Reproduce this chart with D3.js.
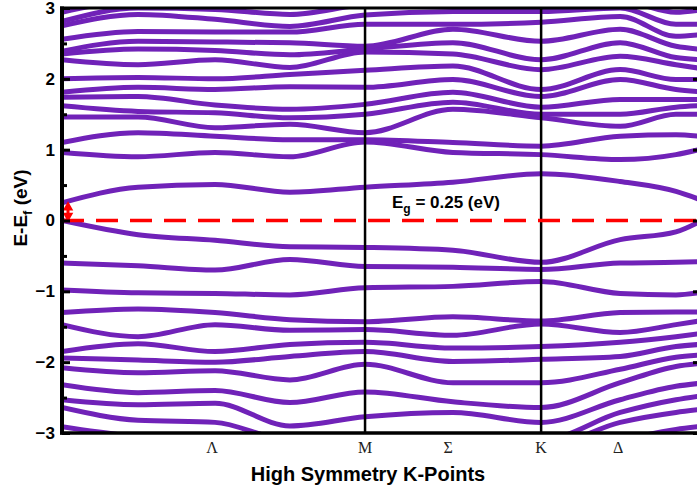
<!DOCTYPE html>
<html>
<head>
<meta charset="utf-8">
<script src="https://cdn.jsdelivr.net/npm/d3@7"></script>
<style>
  body { margin: 0; background: #fff; }
  svg { display: block; }
</style>
</head>
<body>
<div id="chart"></div>
<script>
// k positions of the sampled columns (path length, M = 1)
let kSample = [0, 0.251, 0.505, 0.752, 1.0, 1.290, 1.581, 1.842, 2.026, 2.102];

// high symmetry labels along the path
let kLabels = ["Λ", "M", "Σ", "K", "Δ"];
let kLabelPos = [0.495, 1.0, 1.274, 1.581, 1.835];
let kLines = [1.0, 1.581];

// conduction bands, one row per k column (eV, sorted)
let condCols = [
  [0.25, 0.96, 1.10, 1.46, 1.62, 1.74, 1.81, 2.00, 2.27, 2.35, 2.39, 2.56, 2.75, 2.81, 2.94],
  [0.47, 0.90, 1.24, 1.46, 1.54, 1.75, 1.88, 2.02, 2.20, 2.42, 2.53, 2.67, 2.91, 3.00, 3.10],
  [0.51, 0.96, 1.19, 1.31, 1.52, 1.63, 1.85, 2.00, 2.27, 2.40, 2.52, 2.66, 2.84, 2.98, 3.10],
  [0.40, 0.90, 1.14, 1.36, 1.45, 1.57, 1.89, 2.06, 2.16, 2.34, 2.51, 2.66, 2.74, 2.91, 3.05],
  [0.47, 1.11, 1.14, 1.24, 1.50, 1.64, 1.88, 2.12, 2.38, 2.42, 2.46, 2.77, 2.90, 3.05, 3.15],
  [0.54, 0.96, 1.10, 1.57, 1.67, 1.81, 1.99, 2.18, 2.35, 2.51, 2.70, 2.77, 2.95, 3.10, 3.20],
  [0.66, 0.93, 1.05, 1.45, 1.50, 1.60, 1.75, 1.85, 2.13, 2.27, 2.53, 2.80, 2.95, 3.10, 3.20],
  [0.55, 0.86, 1.19, 1.33, 1.50, 1.71, 1.99, 2.13, 2.32, 2.51, 2.70, 2.88, 3.00, 3.10, 3.20],
  [0.41, 0.93, 1.21, 1.50, 1.60, 1.71, 1.85, 1.99, 2.20, 2.30, 2.46, 2.60, 2.77, 2.94, 3.10],
  [0.30, 1.00, 1.19, 1.50, 1.62, 1.71, 1.82, 1.99, 2.15, 2.27, 2.42, 2.62, 2.77, 2.97, 3.10]
];

// valence bands, one row per k column (eV, sorted)
let valCols = [
  [0.00, -0.60, -0.98, -1.30, -1.47, -1.85, -1.94, -2.08, -2.32, -2.53, -2.64, -2.91, -3.20],
  [-0.20, -0.64, -1.02, -1.25, -1.64, -1.74, -1.97, -2.15, -2.43, -2.60, -2.82, -3.05, -3.20],
  [-0.28, -0.70, -1.03, -1.30, -1.47, -1.85, -2.00, -2.12, -2.40, -2.58, -2.85, -3.10, -3.20],
  [-0.37, -0.55, -1.05, -1.40, -1.55, -1.75, -1.92, -2.25, -2.57, -2.90, -3.10, -3.20, -3.30],
  [-0.38, -0.65, -0.95, -1.43, -1.54, -1.72, -1.85, -2.03, -2.42, -2.77, -3.10, -3.20, -3.30],
  [-0.42, -0.66, -0.93, -1.36, -1.62, -1.80, -1.99, -2.29, -2.56, -2.71, -3.10, -3.20, -3.30],
  [-0.59, -0.69, -0.86, -1.42, -1.46, -1.78, -1.96, -2.29, -2.64, -2.85, -3.10, -3.20, -3.30],
  [-0.27, -0.60, -1.03, -1.30, -1.58, -1.72, -1.92, -2.10, -2.29, -2.53, -2.71, -2.85, -3.10],
  [-0.16, -0.59, -1.05, -1.29, -1.47, -1.64, -1.78, -1.93, -2.06, -2.34, -2.53, -2.71, -2.95],
  [-0.02, -0.58, -1.02, -1.29, -1.42, -1.60, -1.75, -1.90, -2.02, -2.30, -2.48, -2.67, -2.91]
];

let yTicks = [-3, -2, -1, 0, 1, 2, 3];
let yMinor = [-2.5, -1.5, -0.5, 0.5, 1.5, 2.5];
let gapValue = 0.25;

let width = 697, height = 487;
let plotL = 62, plotR = 699, plotT = 8, plotB = 433;
let bandColor = "#7022b8";

let x = d3.scaleLinear().domain([0, 2.102]).range([plotL, plotR]);
let y = d3.scaleLinear().domain([-3, 3]).range([plotB, plotT]);

let svg = d3.select("#chart").append("svg")
    .attr("width", width)
    .attr("height", height);

svg.append("defs").append("clipPath").attr("id", "plotclip")
  .append("rect")
    .attr("x", plotL).attr("y", plotT)
    .attr("width", plotR - plotL).attr("height", plotB - plotT);

// turn column tables into band lines
let toBands = cols => d3.range(cols[0].length).map(b => cols.map((c, i) => [kSample[i], c[b]]));
let bands = toBands(condCols).concat(toBands(valCols));

let line = d3.line()
    .x(d => x(d[0]))
    .y(d => y(d[1]))
    .curve(d3.curveMonotoneX);

let plot = svg.append("g").attr("clip-path", "url(#plotclip)");

plot.selectAll("path.band")
  .data(bands)
  .enter()
  .append("path")
    .attr("class", "band")
    .attr("d", line)
    .attr("fill", "none")
    .attr("stroke", bandColor)
    .attr("stroke-width", 5)
    .attr("stroke-linecap", "round");

// high symmetry vertical lines
svg.selectAll("line.kline")
  .data(kLines)
  .enter()
  .append("line")
    .attr("x1", d => x(d)).attr("x2", d => x(d))
    .attr("y1", plotT).attr("y2", plotB)
    .attr("stroke", "#000")
    .attr("stroke-width", 2.5);

// fermi level
svg.append("line")
    .attr("x1", plotL).attr("x2", plotR)
    .attr("y1", y(0)).attr("y2", y(0))
    .attr("stroke", "#ff0000")
    .attr("stroke-width", 3.5)
    .attr("stroke-dasharray", "22,12");

// gap arrow
let ax = plotL + 6;
svg.append("line")
    .attr("x1", ax).attr("x2", ax)
    .attr("y1", y(gapValue) + 5).attr("y2", y(0) - 5)
    .attr("stroke", "#ff0000")
    .attr("stroke-width", 3);
svg.append("path")
    .attr("d", `M${ax - 4},${y(gapValue) + 7}L${ax},${y(gapValue)}L${ax + 4},${y(gapValue) + 7}Z`)
    .attr("fill", "#ff0000").attr("stroke", "#ff0000").attr("stroke-width", 1.5);
svg.append("path")
    .attr("d", `M${ax - 4},${y(0) - 7}L${ax},${y(0)}L${ax + 4},${y(0) - 7}Z`)
    .attr("fill", "#ff0000").attr("stroke", "#ff0000").attr("stroke-width", 1.5);

// axes
let yAxis = d3.axisLeft(y).tickValues(yTicks).tickSizeInner(-8).tickSizeOuter(0).tickPadding(7)
    .tickFormat(d3.format("d"));
let gy = svg.append("g").attr("transform", `translate(${plotL},0)`).call(yAxis);
gy.select(".domain").remove();
gy.selectAll(".tick line").attr("stroke-width", 3);
gy.selectAll(".tick text")
    .attr("font-family", "Liberation Sans, Arial, sans-serif")
    .attr("font-weight", "bold")
    .attr("font-size", 17)
    .attr("fill", "#000");

let gyMinor = svg.append("g").attr("transform", `translate(${plotL},0)`)
    .call(d3.axisLeft(y).tickValues(yMinor).tickSizeInner(-5).tickSizeOuter(0).tickFormat(""));
gyMinor.select(".domain").remove();
gyMinor.selectAll(".tick line").attr("stroke-width", 3);

let gyR = svg.append("g").attr("transform", `translate(${plotR},0)`)
    .call(d3.axisRight(y).tickValues(yTicks).tickSizeInner(-6).tickSizeOuter(0).tickFormat(""));
gyR.select(".domain").remove();
gyR.selectAll(".tick line").attr("stroke-width", 3);

// frame
svg.append("line").attr("x1", plotL - 2).attr("x2", plotR).attr("y1", plotT).attr("y2", plotT)
    .attr("stroke", "#000").attr("stroke-width", 3);
svg.append("line").attr("x1", plotL - 2).attr("x2", plotR).attr("y1", plotB).attr("y2", plotB)
    .attr("stroke", "#000").attr("stroke-width", 3.5);
svg.append("line").attr("x1", plotL).attr("x2", plotL).attr("y1", plotT - 1.5).attr("y2", plotB + 1.5)
    .attr("stroke", "#000").attr("stroke-width", 4);

// k point labels
svg.selectAll("text.klabel")
  .data(kLabels)
  .enter()
  .append("text")
    .attr("x", (d, i) => x(kLabelPos[i]))
    .attr("y", 453)
    .attr("text-anchor", "middle")
    .attr("font-family", "Liberation Serif, Times New Roman, serif")
    .attr("font-size", 16)
    .attr("fill", "#222")
    .text(d => d);

// axis titles
svg.append("text")
    .attr("x", 368).attr("y", 481)
    .attr("text-anchor", "middle")
    .attr("font-family", "Liberation Sans, Arial, sans-serif")
    .attr("font-weight", "bold")
    .attr("font-size", 20)
    .text("High Symmetry K-Points");

let yt = svg.append("text")
    .attr("transform", "translate(27,208) rotate(-90)")
    .attr("text-anchor", "middle")
    .attr("font-family", "Liberation Sans, Arial, sans-serif")
    .attr("font-weight", "bold")
    .attr("font-size", 19);
yt.append("tspan").text("E-E");
yt.append("tspan").attr("font-size", 13).attr("dy", 5).text("f");
yt.append("tspan").attr("dy", -5).text(" (eV)");

// gap annotation
let eg = svg.append("text")
    .attr("x", 392).attr("y", 208)
    .attr("font-family", "Liberation Sans, Arial, sans-serif")
    .attr("font-weight", "bold")
    .attr("font-size", 17);
eg.append("tspan").text("E");
eg.append("tspan").attr("font-size", 12).attr("dy", 5).text("g");
eg.append("tspan").attr("dy", -5).text(" = " + gapValue + " (eV)");
</script>
</body>
</html>
